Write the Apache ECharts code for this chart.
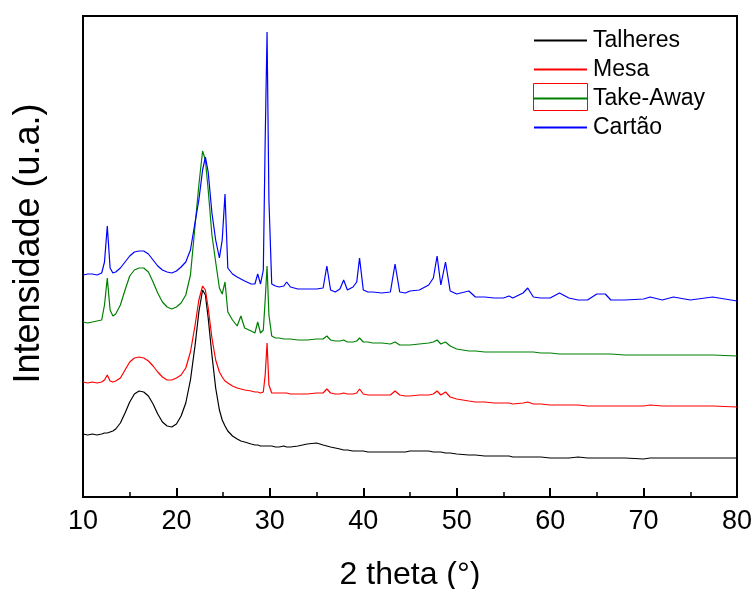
<!DOCTYPE html>
<html>
<head>
<meta charset="utf-8">
<script src="https://cdn.jsdelivr.net/npm/echarts@6/dist/echarts.min.js"></script>
<style>html,body{margin:0;padding:0;background:#fff}#c{width:754px;height:589px}</style>
</head>
<body>
<div id="c"></div>
<script>
// 2 theta (degrees)
const theta = [10,10.5,11,11.5,12,12.3,12.6,12.9,13.2,13.5,
14,14.5,15,15.5,16,16.5,17,17.5,18,18.5,
19,19.5,20,20.5,21,21.5,22,22.4,22.8,23.1,
23.4,23.8,24.2,24.6,24.9,25.2,25.5,26,26.5,26.9,
27.3,28,28.4,28.7,29.0,29.3,29.5,29.7,29.9,30.2,
30.6,31,31.5,31.8,32.2,33,34,35,35.7,36.1,
36.5,37,37.5,37.9,38.3,38.9,39.3,39.6,40,40.5,
41,42,42.9,43.4,43.9,44.5,45,46,47,47.5,
47.9,48.3,48.8,49.3,50,51.3,52,53,54,55,
55.6,56,57.1,57.6,58.2,59,60,61,62,63,
64,65,65.9,66.5,68,70,70.7,72,73.2,75,
77.4,80];

// intensities (arbitrary units, offset stacked)
const talheres = [63,62,63,62,63,64,64,65,66,68,
74,84,95,103,106,105,101,93,83,75,
71,70,73,81,94,117,152,185,207,202,
179,142,109,87,77,71,66,61,58,56,
55,53,52,52,51,51,51,51,50,51,
50,50,51,50,50,51,53,54,52,51,
50,49,48,47,47,46,46,46,46,45,
45,45,45,45,45,45,46,46,46,45,
45,45,44,44,43,42,42,41,41,41,
41,40,40,40,40,40,39,39,39,40,
39,39,39,39,39,38,39,39,39,39,
39,39];

const mesa = [115,114,115,114,115,117,122,116,115,116,
119,127,135,139,140,139,136,131,125,120,
117,117,119,122,129,145,172,197,211,207,
189,159,137,125,120,116,114,111,109,108,
107,106,105,105,104,105,122,154,112,104,
104,104,104,104,103,103,103,104,104,108,
104,103,103,104,103,103,104,108,103,102,
102,102,102,106,102,101,101,102,102,103,
106,102,105,100,98,96,95,95,94,94,
94,93,94,95,93,93,92,92,92,92,
91,91,91,91,91,91,92,91,91,91,
91,90];

const takeAway = [175,174,175,176,177,192,219,187,181,183,
192,207,221,227,229,229,225,215,204,195,
190,188,190,194,202,222,272,312,346,337,
307,262,235,209,203,215,185,177,171,181,
169,166,164,175,164,167,197,231,182,161,
159,159,158,158,158,157,157,158,158,161,
157,156,156,157,155,155,156,159,155,155,
154,154,153,155,152,152,152,153,154,155,
157,153,155,151,148,146,146,145,145,145,
145,145,145,145,145,144,144,143,143,143,
143,143,143,143,142,142,142,142,142,142,
142,141];

const cartao = [222,223,223,222,224,235,271,229,224,225,
229,235,241,245,246,246,243,237,231,227,
225,224,226,230,235,247,275,297,327,340,
325,284,257,239,257,303,229,223,220,218,
216,213,213,223,213,227,357,465,297,213,
211,210,211,215,210,208,208,208,209,231,
207,205,208,217,207,210,215,239,207,205,
205,204,205,233,205,204,206,207,212,219,
241,212,235,206,203,206,200,200,199,199,
201,199,204,209,200,199,199,204,199,197,
197,203,203,197,197,198,200,197,200,197,
200,196];

const seriesNames = ['Talheres','Mesa','Take-Away','Cartão'];
const seriesColors = ['#000000','#ff0000','#008000','#0000ff'];
const seriesValues = [talheres, mesa, takeAway, cartao];
const xTicks = [10,20,30,40,50,60,70,80];

const FONT = "'Liberation Sans', Arial, sans-serif";
const chart = echarts.init(document.getElementById('c'), null, {renderer:'canvas'});

const series = seriesNames.map((name, i) => ({
  name: name,
  type: 'line',
  symbol: 'none',
  showSymbol: false,
  animation: false,
  lineStyle: {color: seriesColors[i], width: 1.2},
  itemStyle: {color: seriesColors[i]},
  data: theta.map((t, j) => [t, seriesValues[i][j]])
}));

chart.setOption({
  backgroundColor: '#fff',
  animation: false,
  grid: {left: 83, top: 16, right: 17, bottom: 92, outerBoundsMode: 'none', containLabel: false,
         show: true, borderColor: '#000', borderWidth: 2, backgroundColor: 'transparent'},
  legend: {
    orient: 'vertical',
    left: 533,
    top: 29,
    padding: 0,
    itemWidth: 53,
    itemHeight: 14,
    itemGap: 6,
    selectedMode: false,
    itemStyle: {opacity: 0},
    textStyle: {fontFamily: FONT, fontSize: 23, color: '#000', lineHeight: 23, padding: [0,0,0,1]},
    data: seriesNames
  },
  xAxis: {
    type: 'value',
    min: xTicks[0],
    max: xTicks[xTicks.length-1],
    interval: 10,
    name: '2 theta (°)',
    nameLocation: 'middle',
    nameGap: 62,
    nameTextStyle: {fontFamily: FONT, fontSize: 32, color: '#000'},
    axisLine: {show: true, lineStyle: {color: '#000', width: 2}},
    axisTick: {show: true, inside: true, length: 9, lineStyle: {color: '#000', width: 2}},
    minorTick: {show: true, splitNumber: 2, length: 5, lineStyle: {color: '#000', width: 1.5}},
    axisLabel: {fontFamily: FONT, fontSize: 27, color: '#000', margin: 11},
    splitLine: {show: false}
  },
  yAxis: {
    type: 'value',
    min: 0,
    max: 481,
    name: 'Intensidade (u.a.)',
    nameLocation: 'middle',
    nameGap: 36,
    nameTextStyle: {fontFamily: FONT, fontSize: 36, color: '#000', padding: [0,0,0,26]},
    axisLine: {show: true, lineStyle: {color: '#000', width: 2}},
    axisTick: {show: false},
    axisLabel: {show: false},
    splitLine: {show: false}
  },
  graphic: [{
    type: 'rect',
    z: 100,
    shape: {x: 533.5, y: 83.5, width: 54, height: 27},
    style: {fill: 'none', stroke: '#ff0000', lineWidth: 1}
  }],
  series: series
});
</script>
</body>
</html>
